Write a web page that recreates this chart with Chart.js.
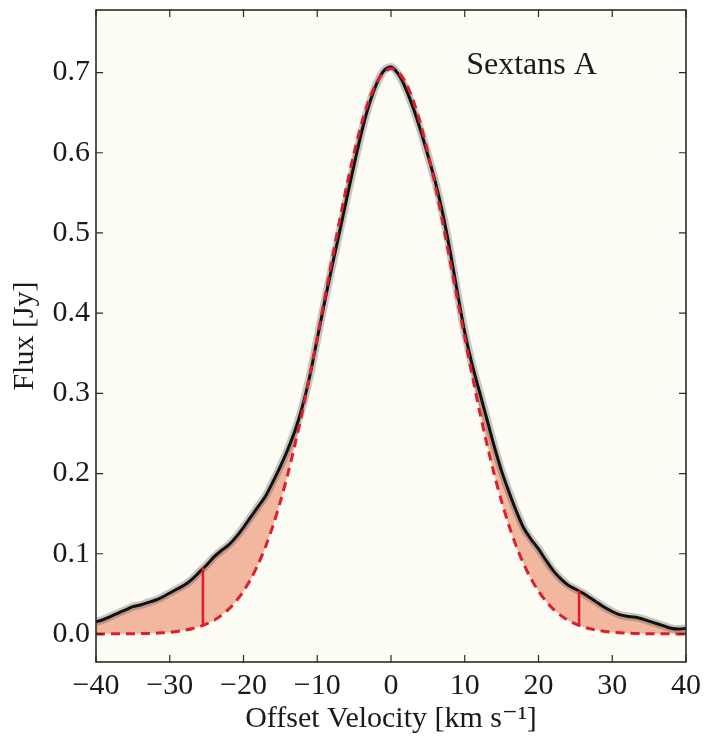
<!DOCTYPE html>
<html>
<head>
<meta charset="utf-8">
<script src="https://cdn.jsdelivr.net/npm/chart.js@4.4.0/dist/chart.umd.min.js"></script>
<style>
  html, body { margin: 0; padding: 0; background: #ffffff; }
  #wrap { width: 709px; height: 748px; position: relative; }
</style>
</head>
<body>
<div id="wrap"><canvas id="c" width="709" height="748"></canvas></div>
<script>
// ---- data ----
const velocity = [-40,-39,-38,-37,-36,-35,-34,-33,-32,-31,-30,-29,-28,-27,-26,-25,-24,-23,-22,-21,
  -20,-19,-18,-17,-16,-15,-14,-13,-12,-11,-10,-9,-8,-7,-6,-5,-4,-3,-2,-1,
  0,1,2,3,4,5,6,7,8,9,10,11,12,13,14,15,16,17,18,19,20,
  21,22,23,24,25,26,27,28,29,30,31,32,33,34,35,36,37,38,39,40];
const fluxObserved = [0.015,0.018,0.022,0.026,0.030,0.034,0.036,0.039,0.042,0.046,
  0.051,0.056,0.061,0.068,0.077,0.086,0.096,0.104,0.111,0.121,
  0.133,0.146,0.159,0.172,0.190,0.209,0.230,0.254,0.284,0.322,
  0.368,0.414,0.458,0.500,0.543,0.585,0.625,0.659,0.685,0.702,
  0.707,0.698,0.680,0.656,0.628,0.597,0.564,0.525,0.478,0.426,
  0.376,0.336,0.302,0.268,0.234,0.203,0.177,0.153,0.132,0.118,
  0.106,0.092,0.079,0.069,0.061,0.056,0.051,0.045,0.039,0.033,
  0.028,0.024,0.022,0.021,0.019,0.016,0.013,0.010,0.007,0.006,0.007];
const fluxGaussian = [0.0000,0.0000,0.0001,0.0001,0.0002,0.0003,0.0004,0.0006,0.0009,0.0014,
  0.0021,0.0031,0.0045,0.0064,0.0090,0.0125,0.0171,0.0232,0.0310,0.0409,
  0.0533,0.0686,0.0871,0.109,0.135,0.165,0.199,0.237,0.278,0.323,
  0.370,0.418,0.466,0.514,0.559,0.600,0.636,0.665,0.687,0.700,
  0.705,0.700,0.687,0.665,0.636,0.600,0.559,0.514,0.466,0.418,
  0.370,0.323,0.278,0.237,0.199,0.165,0.135,0.109,0.0871,0.0686,
  0.0533,0.0409,0.0310,0.0232,0.0171,0.0125,0.0090,0.0064,0.0045,0.0031,
  0.0021,0.0014,0.0009,0.0006,0.0004,0.0003,0.0002,0.0001,0.0001,0.0000,0.0000];
const limitVelocity = [-25.5, 25.5];
const limitLow = [0.010, 0.011];
const limitHigh = [0.083, 0.054];
const xTickValues = [-40,-30,-20,-10,0,10,20,30,40];
const yTickValues = [0.0,0.1,0.2,0.3,0.4,0.5,0.6,0.7];
const galaxyName = 'Sextans A';

// ---- build library structures ----
const obsPts = velocity.map((v, i) => ({x: v, y: fluxObserved[i]}));
const gauPts = velocity.map((v, i) => ({x: v, y: fluxGaussian[i]}));
const limPts = limitVelocity.map((v, i) => [{x: v, y: limitLow[i]}, {x: v, y: limitHigh[i]}]);

const SERIF = '"Liberation Serif", "DejaVu Serif", serif';
const RED = '#dd1f2b';

const bgPlugin = {
  id: 'bg',
  beforeDraw(chart) {
    const {ctx, chartArea: a} = chart;
    ctx.save();
    ctx.fillStyle = '#ffffff';
    ctx.fillRect(0, 0, chart.width, chart.height);
    ctx.fillStyle = '#fdfdf6';
    ctx.fillRect(a.left, a.top, a.right - a.left, a.bottom - a.top);
    ctx.restore();
  }
};

const framePlugin = {
  id: 'frame',
  afterDraw(chart) {
    const {ctx, chartArea: a, scales} = chart;
    ctx.save();
    ctx.strokeStyle = '#2a2a2a';
    ctx.lineWidth = 1.2;
    const L = 7;
    ctx.beginPath();
    xTickValues.forEach(v => {
      const px = scales.x.getPixelForValue(v);
      ctx.moveTo(px, a.bottom); ctx.lineTo(px, a.bottom - L);
      ctx.moveTo(px, a.top); ctx.lineTo(px, a.top + L);
    });
    yTickValues.forEach(v => {
      const py = scales.y.getPixelForValue(v);
      ctx.moveTo(a.left, py); ctx.lineTo(a.left + L, py);
      ctx.moveTo(a.right, py); ctx.lineTo(a.right - L, py);
    });
    ctx.stroke();
    ctx.lineWidth = 1.6;
    ctx.strokeRect(a.left, a.top, a.right - a.left, a.bottom - a.top);
    // galaxy label
    ctx.fillStyle = '#1a1a1a';
    ctx.font = '32px ' + SERIF;
    ctx.textAlign = 'left';
    ctx.textBaseline = 'middle';
    ctx.fillText(galaxyName, scales.x.getPixelForValue(10.2), scales.y.getPixelForValue(0.709));
    ctx.restore();
  }
};

new Chart(document.getElementById('c'), {
  type: 'line',
  data: {
    datasets: [
      { data: obsPts, borderColor: 'rgba(70,70,70,0.30)', borderWidth: 8,
        backgroundColor: 'rgba(238,158,128,0.74)', fill: 2, pointRadius: 0, tension: 0.3, order: 4 },
      { data: obsPts, borderColor: '#111111', borderWidth: 3, fill: false, pointRadius: 0, tension: 0.3, order: 3 },
      { data: gauPts, borderColor: RED, borderWidth: 3, borderDash: [9, 6], fill: false, pointRadius: 0, tension: 0.3, order: 2 },
      { data: limPts[0], borderColor: RED, borderWidth: 2.6, fill: false, pointRadius: 0, order: 1 },
      { data: limPts[1], borderColor: RED, borderWidth: 2.6, fill: false, pointRadius: 0, order: 1 }
    ]
  },
  options: {
    responsive: false,
    animation: false,
    layout: { padding: { top: 10, right: 23, left: 0, bottom: 0 } },
    plugins: { legend: { display: false }, tooltip: { enabled: false } },
    scales: {
      x: {
        type: 'linear', min: -40, max: 40,
        afterFit: s => { s.height = 86; s.paddingLeft = 0; s.paddingRight = 0; },
        grid: { display: false, drawTicks: false },
        border: { display: false },
        afterBuildTicks: s => { s.ticks = xTickValues.map(v => ({value: v})); },
        ticks: { padding: 6, color: '#1a1a1a', font: { family: SERIF, size: 30 },
          maxRotation: 0, callback: v => String(v).replace('-', '\u2212') },
        title: { display: true, text: 'Offset Velocity [km s\u207B\u00B9]', color: '#1a1a1a',
          font: { family: SERIF, size: 30 }, padding: { top: 0, bottom: 11 } }
      },
      y: {
        type: 'linear', min: -0.035, max: 0.778,
        afterFit: s => { s.width = 96; s.paddingTop = 0; s.paddingBottom = 0; },
        grid: { display: false, drawTicks: false },
        border: { display: false },
        afterBuildTicks: s => { s.ticks = yTickValues.map(v => ({value: v})); },
        ticks: { padding: 6, color: '#1a1a1a', font: { family: SERIF, size: 30 },
          callback: v => Number(v).toFixed(1) },
        title: { display: true, text: 'Flux [Jy]', color: '#1a1a1a',
          font: { family: SERIF, size: 30 }, padding: { top: 7, bottom: 0 } }
      }
    }
  },
  plugins: [bgPlugin, framePlugin]
});
</script>
</body>
</html>
